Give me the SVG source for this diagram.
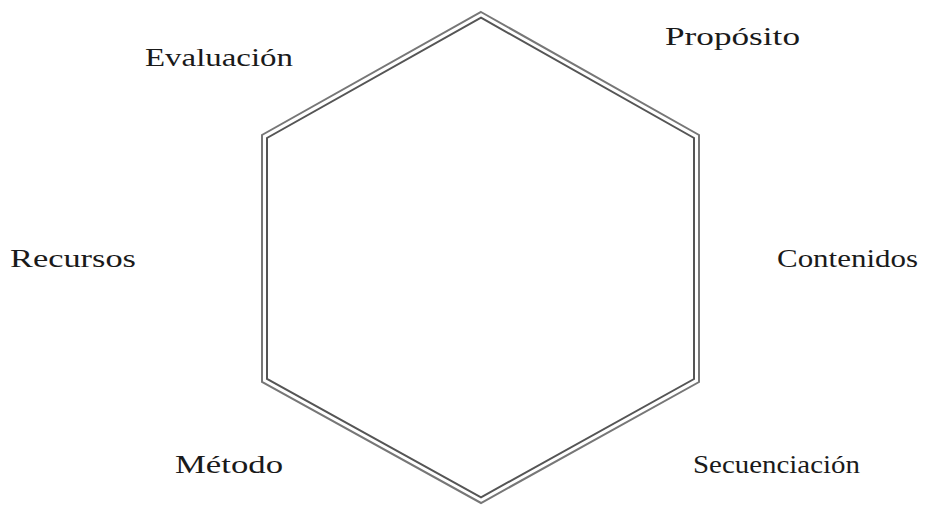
<svg xmlns="http://www.w3.org/2000/svg" width="936" height="506" viewBox="0 0 936 506">
<style>
.lbl{font-family:"Liberation Serif","Times New Roman",serif;font-size:26px;fill:#1a1a1a}
.hex{fill:none;stroke-width:2;stroke-linejoin:miter}
</style>
<rect width="936" height="506" fill="#fff"/>
<g id="hexagon">
<polygon class="hex" stroke="#777" points="481,12 699,135 699,382 481,503 262,382 262,135"/>
<polygon class="hex" stroke="#555" points="481,17.7 694,138 694,379 481,497.3 267,379 267,138"/>
</g>
<g id="connectors"></g>
<g id="evaluacion"><text class="lbl" x="145" y="66" textLength="148" lengthAdjust="spacingAndGlyphs">Evaluación</text></g>
<g id="proposito"><text class="lbl" x="665" y="45" textLength="135" lengthAdjust="spacingAndGlyphs">Propósito</text></g>
<g id="recursos"><text class="lbl" x="10" y="267" textLength="126" lengthAdjust="spacingAndGlyphs">Recursos</text></g>
<g id="contenidos"><text class="lbl" x="777" y="267" textLength="141" lengthAdjust="spacingAndGlyphs">Contenidos</text></g>
<g id="metodo"><text class="lbl" x="175" y="473" textLength="108" lengthAdjust="spacingAndGlyphs">Método</text></g>
<g id="secuenciacion"><text class="lbl" x="693" y="473" textLength="167" lengthAdjust="spacingAndGlyphs">Secuenciación</text></g>
</svg>
